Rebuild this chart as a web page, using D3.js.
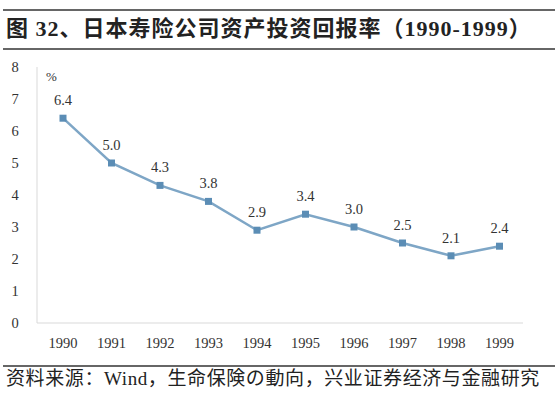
<!DOCTYPE html>
<html>
<head>
<meta charset="utf-8">
<script src="https://cdn.jsdelivr.net/npm/d3@7"></script>
<style>
  body { margin: 0; background: #fff; }
  svg { display: block; }
</style>
</head>
<body>
<div id="chart"></div>
<script>
// Japanese life insurers' investment return, 1990-1999
const years = ["1990", "1991", "1992", "1993", "1994", "1995", "1996", "1997", "1998", "1999"];
const returns = [6.4, 5.0, 4.3, 3.8, 2.9, 3.4, 3.0, 2.5, 2.1, 2.4];
const yTicks = [0, 1, 2, 3, 4, 5, 6, 7, 8];

const W = 558, H = 399;
const serif = "'Liberation Serif', 'Times New Roman', 'Noto Sans CJK SC', serif";
const cjk = "'Liberation Serif', 'Noto Sans CJK SC', serif";

const svg = d3.select("#chart").append("svg")
    .attr("width", W)
    .attr("height", H);

// header rules + title
svg.append("line").attr("x1", 3).attr("x2", 555).attr("y1", 10).attr("y2", 10)
    .attr("stroke", "#333").attr("stroke-width", 1.5);
svg.append("line").attr("x1", 3).attr("x2", 555).attr("y1", 49).attr("y2", 49)
    .attr("stroke", "#333").attr("stroke-width", 1.5);
svg.append("text")
    .attr("x", 6).attr("y", 36)
    .style("font-family", cjk)
    .style("font-size", "22px")
    .style("font-weight", "bold")
    .style("letter-spacing", "1px")
    .attr("fill", "#222")
    .text("图 32、日本寿险公司资产投资回报率（1990-1999）");

// scales
const x = d3.scalePoint().domain(years).range([63, 499.5]);
const y = d3.scaleLinear().domain([0, 8]).range([323, 67]);

// axes lines
svg.append("line").attr("x1", 37).attr("x2", 37).attr("y1", 67).attr("y2", 323)
    .attr("stroke", "#d9d9d9");
svg.append("line").attr("x1", 37).attr("x2", 523).attr("y1", 323).attr("y2", 323)
    .attr("stroke", "#d9d9d9");

// y tick labels
svg.append("g").selectAll("text")
    .data(yTicks).enter().append("text")
    .attr("x", 15).attr("y", d => y(d) + 5)
    .attr("text-anchor", "middle")
    .style("font-family", serif).style("font-size", "14.5px")
    .attr("fill", "#333")
    .text(d => d);

// x tick labels
svg.append("g").selectAll("text")
    .data(years).enter().append("text")
    .attr("x", d => x(d)).attr("y", 348)
    .attr("text-anchor", "middle")
    .style("font-family", serif).style("font-size", "14.5px")
    .attr("fill", "#333")
    .text(d => d);

// unit
svg.append("text")
    .attr("x", 46).attr("y", 81)
    .style("font-family", serif).style("font-size", "13px")
    .attr("fill", "#333")
    .text("%");

// line
const line = d3.line().x((d, i) => x(years[i])).y(d => y(d));
svg.append("path")
    .datum(returns)
    .attr("d", line)
    .attr("fill", "none")
    .attr("stroke", "#7ea6c6")
    .attr("stroke-width", 2.5);

// markers
svg.append("g").selectAll("rect")
    .data(returns).enter().append("rect")
    .attr("x", (d, i) => x(years[i]) - 3.5)
    .attr("y", d => y(d) - 3.5)
    .attr("width", 7).attr("height", 7)
    .attr("fill", "#5b8db5");

// value labels
svg.append("g").selectAll("text")
    .data(returns).enter().append("text")
    .attr("x", (d, i) => x(years[i]))
    .attr("y", d => y(d) - 13)
    .attr("text-anchor", "middle")
    .style("font-family", serif).style("font-size", "14.5px")
    .attr("fill", "#333")
    .text(d => d.toFixed(1));

// source
svg.append("line").attr("x1", 3).attr("x2", 555).attr("y1", 366).attr("y2", 366)
    .attr("stroke", "#333").attr("stroke-width", 1.5);
svg.append("text")
    .attr("x", 6).attr("y", 385)
    .style("font-family", cjk)
    .style("font-size", "19px")
    .style("letter-spacing", "0.6px")
    .attr("fill", "#222")
    .text("资料来源：Wind，生命保険の動向，兴业证券经济与金融研究");
</script>
</body>
</html>
